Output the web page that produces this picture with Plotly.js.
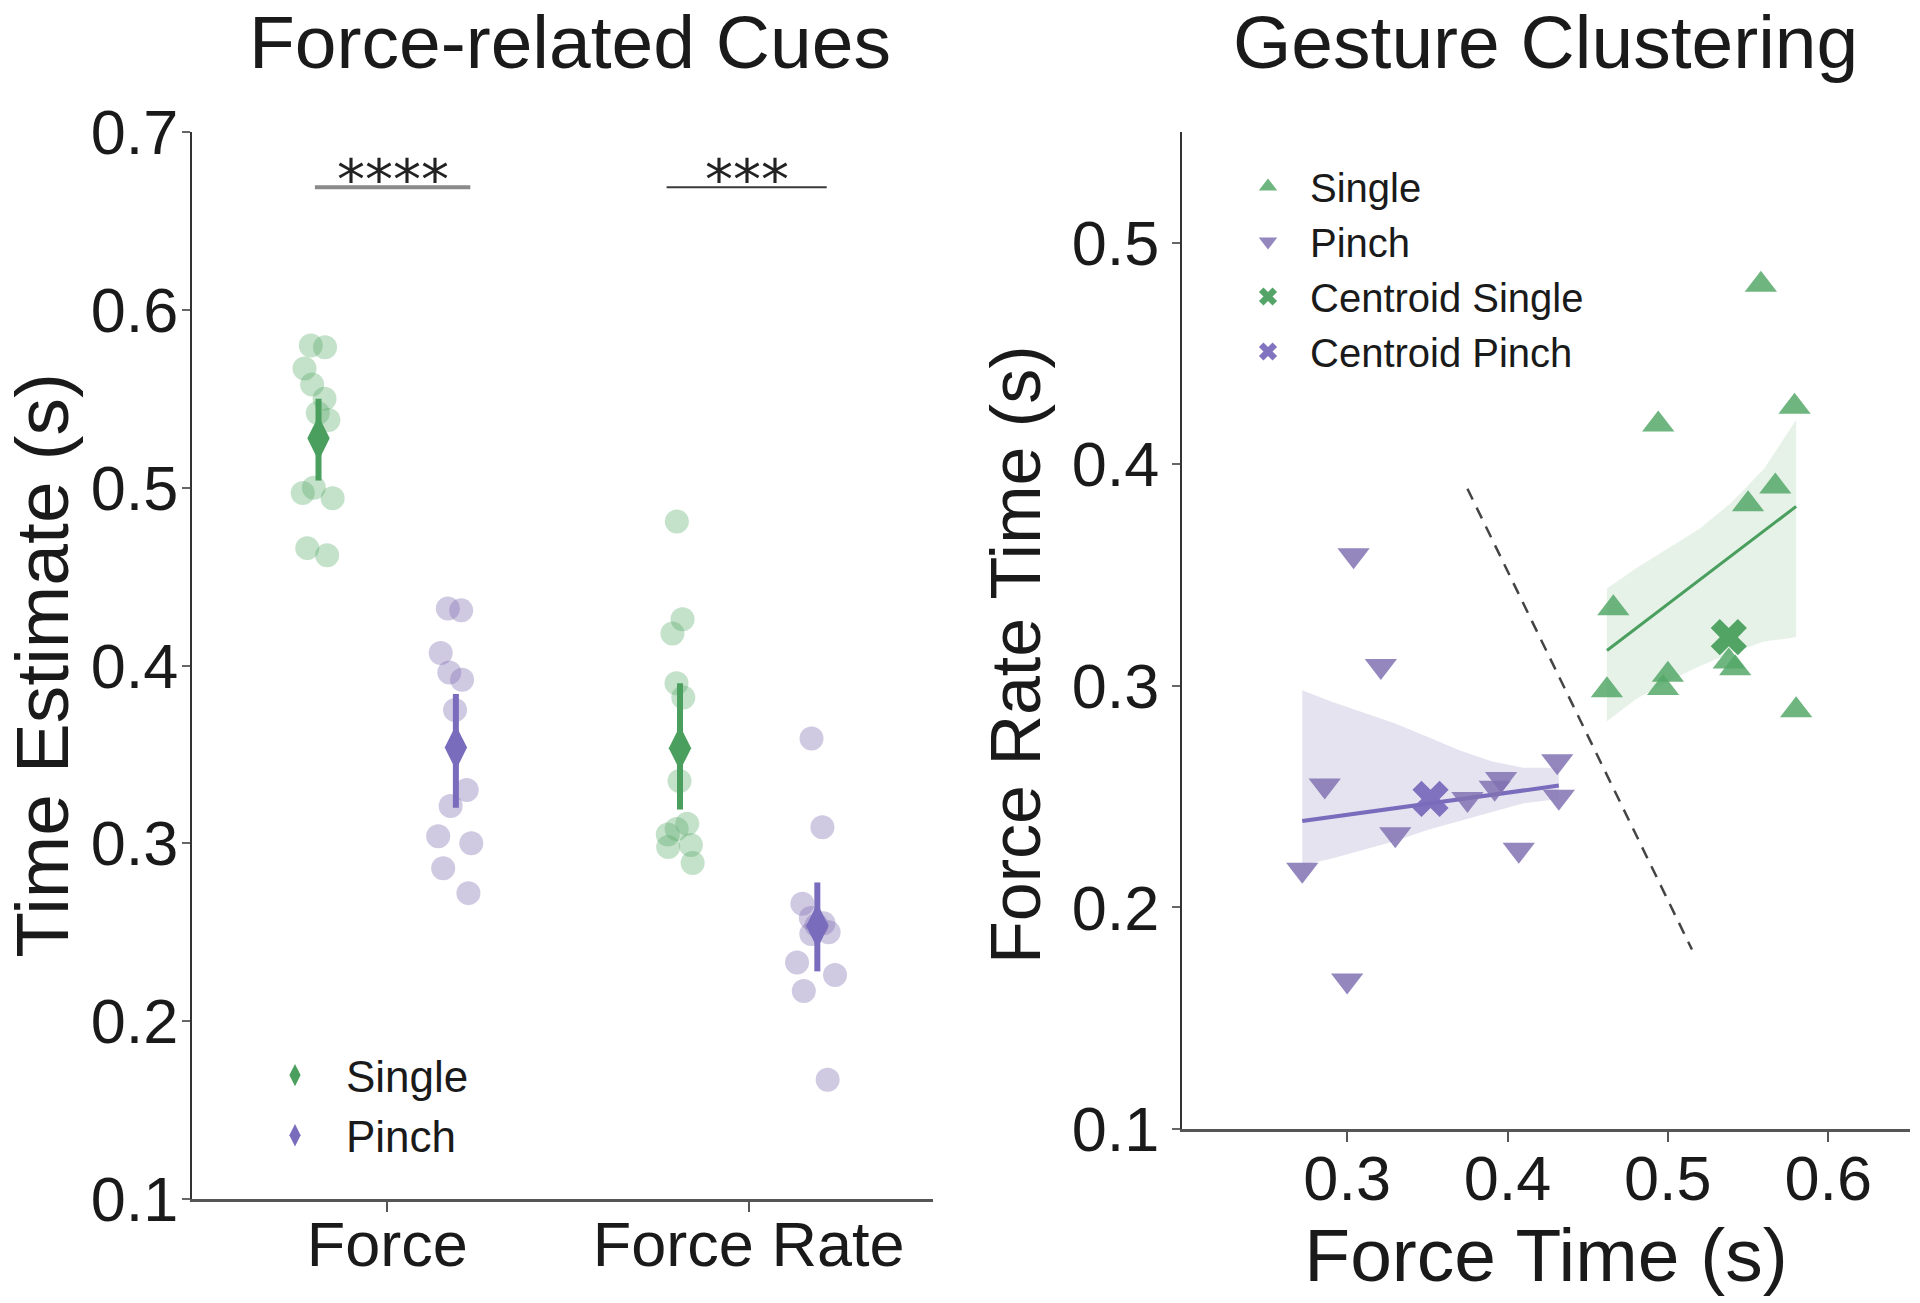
<!DOCTYPE html>
<html>
<head>
<meta charset="utf-8">
<script src="https://cdn.plot.ly/plotly-3.0.1.min.js"></script>
<style>
  html, body { margin: 0; padding: 0; background: #ffffff; }
  #chart { width: 1920px; height: 1303px; }
</style>
</head>
<body>
<div id="chart"></div>
<script>
// ---------------- data ----------------
const categories = ['Force', 'Force Rate'];

// per-participant values (Single gesture)
const singleForce     = [0.580, 0.579, 0.567, 0.558, 0.550, 0.542, 0.538, 0.500, 0.497, 0.494, 0.466, 0.462];
const singleForceRate = [0.289, 0.426, 0.390, 0.481, 0.382, 0.308, 0.311, 0.305, 0.299, 0.418, 0.335, 0.298];
// per-participant values (Pinch gesture)
const pinchForce      = [0.272, 0.286, 0.300, 0.304, 0.321, 0.330, 0.375, 0.392, 0.396, 0.407, 0.431, 0.432];
const pinchForceRate  = [0.217, 0.255, 0.167, 0.359, 0.309, 0.233, 0.249, 0.254, 0.258, 0.226, 0.266, 0.250];

// 95% CI of the mean, per category [Force, Force Rate]
const singleCILow  = [0.504, 0.319];
const singleCIHigh = [0.550, 0.390];
const pinchCILow   = [0.320, 0.228];
const pinchCIHigh  = [0.384, 0.278];

// significance labels per category
const sigLabels = ['****', '***'];

// clustering panel
const centroidSingle = [0.538, 0.322];
const centroidPinch  = [0.352, 0.249];

const regSingleX = [0.462, 0.580];
const regSingleY = [0.316, 0.381];
const regPinchX  = [0.272, 0.432];
const regPinchY  = [0.239, 0.255];

const bandSingleX     = [0.462, 0.480, 0.500, 0.520, 0.540, 0.560, 0.580];
const bandSingleUpper = [0.344, 0.353, 0.362, 0.371, 0.383, 0.398, 0.420];
const bandSingleLower = [0.284, 0.294, 0.302, 0.309, 0.315, 0.320, 0.322];

const bandPinchX     = [0.272, 0.290, 0.310, 0.330, 0.350, 0.370, 0.390, 0.410, 0.432];
const bandPinchUpper = [0.298, 0.293, 0.288, 0.283, 0.277, 0.271, 0.266, 0.263, 0.263];
const bandPinchLower = [0.219, 0.222, 0.226, 0.230, 0.235, 0.239, 0.243, 0.247, 0.249];

const boundaryX = [0.375, 0.515];
const boundaryY = [0.389, 0.181];

// ---------------- styling ----------------
const GREEN = '#55a868';
const PURPLE = '#8172b3';
const GREEN_D = '#4a9f5e';
const PURPLE_D = '#7a6cbc';
const FONT = '"Liberation Sans", Arial, Helvetica, sans-serif';
const dodge = 0.19;

const mean = a => a.reduce((s, v) => s + v, 0) / a.length;

const singleByCat = [singleForce, singleForceRate];
const pinchByCat = [pinchForce, pinchForceRate];

const traces = [];

// strip points (library jitter)
categories.forEach((c, i) => {
  traces.push({
    type: 'box', x0: i - dodge, y: singleByCat[i], width: 0.3,
    boxpoints: 'all', jitter: 0.45, pointpos: 0,
    fillcolor: 'rgba(0,0,0,0)', line: { width: 0 },
    marker: { color: GREEN, opacity: 0.35, size: 24 },
    hoveron: 'points', showlegend: false, name: 'Single ' + c,
    xaxis: 'x', yaxis: 'y'
  });
  traces.push({
    type: 'box', x0: i + dodge, y: pinchByCat[i], width: 0.3,
    boxpoints: 'all', jitter: 0.45, pointpos: 0,
    fillcolor: 'rgba(0,0,0,0)', line: { width: 0 },
    marker: { color: PURPLE, opacity: 0.38, size: 24 },
    hoveron: 'points', showlegend: false, name: 'Pinch ' + c,
    xaxis: 'x', yaxis: 'y'
  });
});

// means with CI
const singleMeans = singleByCat.map(mean);
const pinchMeans = pinchByCat.map(mean);
traces.push({
  type: 'scatter', mode: 'markers', name: 'Single',
  x: categories.map((c, i) => i - dodge), y: singleMeans,
  error_y: { type: 'data', symmetric: false,
    array: singleCIHigh.map((v, i) => v - singleMeans[i]),
    arrayminus: singleMeans.map((m, i) => m - singleCILow[i]),
    width: 0, thickness: 6, color: GREEN_D },
  marker: { symbol: 'diamond-tall', size: 32, color: GREEN_D },
  legend: 'legend', xaxis: 'x', yaxis: 'y'
});
traces.push({
  type: 'scatter', mode: 'markers', name: 'Pinch',
  x: categories.map((c, i) => i + dodge), y: pinchMeans,
  error_y: { type: 'data', symmetric: false,
    array: pinchCIHigh.map((v, i) => v - pinchMeans[i]),
    arrayminus: pinchMeans.map((m, i) => m - pinchCILow[i]),
    width: 0, thickness: 6, color: PURPLE_D },
  marker: { symbol: 'diamond-tall', size: 32, color: PURPLE_D },
  legend: 'legend', xaxis: 'x', yaxis: 'y'
});

// ---------- right panel ----------
function band(xs, up, lo, color) {
  return {
    type: 'scatter', mode: 'lines', fill: 'toself', fillcolor: color,
    x: xs.concat(xs.slice().reverse()),
    y: up.concat(lo.slice().reverse()),
    line: { width: 0 },
    hoverinfo: 'skip', showlegend: false, xaxis: 'x2', yaxis: 'y2'
  };
}
traces.push(band(bandPinchX, bandPinchUpper, bandPinchLower, 'rgba(129,114,179,0.2)'));
traces.push(band(bandSingleX, bandSingleUpper, bandSingleLower, 'rgba(85,168,104,0.15)'));
traces.push({ type: 'scatter', mode: 'lines', x: regPinchX, y: regPinchY,
  line: { color: PURPLE_D, width: 4 }, showlegend: false, xaxis: 'x2', yaxis: 'y2' });
traces.push({ type: 'scatter', mode: 'lines', x: regSingleX, y: regSingleY,
  line: { color: GREEN_D, width: 3 }, showlegend: false, xaxis: 'x2', yaxis: 'y2' });
traces.push({ type: 'scatter', mode: 'lines', x: boundaryX, y: boundaryY,
  line: { color: '#444444', width: 2.5, dash: '12px,9px' }, showlegend: false, xaxis: 'x2', yaxis: 'y2' });

traces.push({ type: 'scatter', mode: 'markers', name: 'Single',
  x: singleForce, y: singleForceRate,
  marker: { symbol: 'triangle-up', size: 28, color: GREEN, opacity: 0.85 },
  legend: 'legend2', xaxis: 'x2', yaxis: 'y2' });
traces.push({ type: 'scatter', mode: 'markers', name: 'Pinch',
  x: pinchForce, y: pinchForceRate,
  marker: { symbol: 'triangle-down', size: 28, color: PURPLE, opacity: 0.85 },
  legend: 'legend2', xaxis: 'x2', yaxis: 'y2' });
traces.push({ type: 'scatter', mode: 'markers', name: 'Centroid Single',
  x: [centroidSingle[0]], y: [centroidSingle[1]],
  marker: { symbol: 'x', size: 32, color: GREEN_D, opacity: 0.95 },
  legend: 'legend2', xaxis: 'x2', yaxis: 'y2' });
traces.push({ type: 'scatter', mode: 'markers', name: 'Centroid Pinch',
  x: [centroidPinch[0]], y: [centroidPinch[1]],
  marker: { symbol: 'x', size: 32, color: PURPLE_D, opacity: 0.95 },
  legend: 'legend2', xaxis: 'x2', yaxis: 'y2' });

// ---------------- layout ----------------
const W = 1920, H = 1303;
const tickFont = { family: FONT, size: 63, color: '#1a1a1a' };
const titleFont = { family: FONT, size: 75, color: '#1a1a1a' };

const sigSpan = [[-0.20, 0.23], [-0.227, 0.216]];
const sigShapes = sigLabels.map((s, i) => ({
  type: 'line', xref: 'x', yref: 'y', x0: i + sigSpan[i][0], x1: i + sigSpan[i][1], y0: 0.669, y1: 0.669,
  line: { color: i === 0 ? '#8a8a8a' : '#3a3a3a', width: i === 0 ? 4 : 2 }
}));
const sigAnn = sigLabels.map((s, i) => ({
  xref: 'x', yref: 'y', x: i + (sigSpan[i][0] + sigSpan[i][1]) / 2, y: 0.669,
  yanchor: 'bottom', xanchor: 'center',
  text: s, showarrow: false, yshift: -27,
  font: { family: '"DejaVu Sans", sans-serif', size: 56, color: '#222' }
}));

const layout = {
  width: W, height: H,
  margin: { l: 0, r: 0, t: 0, b: 0 },
  paper_bgcolor: '#ffffff', plot_bgcolor: '#ffffff',
  font: { family: FONT, color: '#1a1a1a' },
  xaxis: {
    domain: [192 / W, 933 / W], range: [-0.54, 1.51],
    tickvals: categories.map((c, i) => i), ticktext: categories,
    showline: true, linecolor: '#555', linewidth: 3, ticks: 'outside', ticklen: 10,
    tickcolor: '#555', tickwidth: 2, tickfont: tickFont, showgrid: false, zeroline: false,
    ticklabelstandoff: -22
  },
  yaxis: {
    domain: [1 - 1199 / H, 1 - 132 / H], range: [0.1, 0.7], dtick: 0.1, tickformat: '.1f',
    showline: true, linecolor: '#333', linewidth: 2, ticks: 'outside', ticklen: 8,
    tickcolor: '#666', tickwidth: 2, tickfont: tickFont, showgrid: false, zeroline: false,
    ticklabelstandoff: -9,
    title: { text: 'Time Estimate (s)', font: titleFont, standoff: 20 }
  },
  xaxis2: {
    domain: [1182 / W, 1910 / W], range: [0.197, 0.651],
    tickvals: [0.3, 0.4, 0.5, 0.6], tickformat: '.1f',
    showline: true, linecolor: '#555', linewidth: 3, ticks: 'outside', ticklen: 10,
    tickcolor: '#555', tickwidth: 2, tickfont: tickFont, showgrid: false, zeroline: false,
    ticklabelstandoff: -18, anchor: 'y2',
    title: { text: 'Force Time (s)', font: titleFont, standoff: 13 }
  },
  yaxis2: {
    domain: [1 - 1129 / H, 1 - 132 / H], range: [0.1, 0.55],
    tickvals: [0.1, 0.2, 0.3, 0.4, 0.5], tickformat: '.1f',
    showline: true, linecolor: '#333', linewidth: 2, ticks: 'outside', ticklen: 8,
    tickcolor: '#666', tickwidth: 2, tickfont: tickFont, showgrid: false, zeroline: false,
    ticklabelstandoff: 0, anchor: 'x2'
  },
  legend: {
    x: 244 / W, y: 1 - 1040 / H, xanchor: 'left', yanchor: 'top',
    font: { family: FONT, size: 44, color: '#1a1a1a' }, bgcolor: 'rgba(0,0,0,0)',
    itemsizing: 'trace', tracegroupgap: 0, itemwidth: 92
  },
  legend2: {
    x: 1226 / W, y: 1 - 154 / H, xanchor: 'left', yanchor: 'top',
    font: { family: FONT, size: 40, color: '#1a1a1a' }, bgcolor: 'rgba(0,0,0,0)',
    itemsizing: 'trace', tracegroupgap: 0, itemwidth: 74
  },
  shapes: sigShapes,
  annotations: [
    { xref: 'paper', yref: 'paper', x: 570 / W, y: 1 - 42 / H, xanchor: 'center', yanchor: 'middle',
      text: 'Force-related Cues', showarrow: false, font: { family: FONT, size: 75, color: '#1a1a1a' } },
    { xref: 'paper', yref: 'paper', x: 1545 / W, y: 1 - 42 / H, xanchor: 'center', yanchor: 'middle',
      text: 'Gesture Clustering', showarrow: false, font: { family: FONT, size: 75, color: '#1a1a1a' } },
    // y-axis title of the clustering panel (placed as in the reference, slightly below the axis centre)
    { xref: 'paper', yref: 'paper', x: 1016 / W, y: 1 - 655 / H, xanchor: 'center', yanchor: 'middle',
      textangle: -90, text: 'Force Rate Time (s)', showarrow: false,
      font: { family: FONT, size: 70, color: '#1a1a1a' } }
  ].concat(sigAnn),
  showlegend: true
};

Plotly.newPlot('chart', traces, layout, { staticPlot: true, displayModeBar: false });
</script>
</body>
</html>
